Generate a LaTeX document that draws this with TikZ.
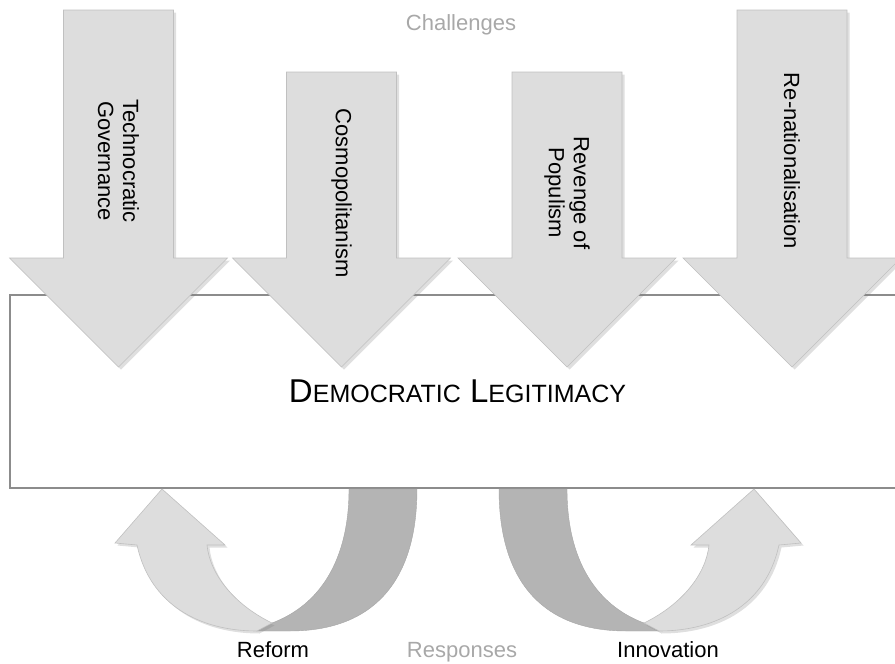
\documentclass[tikz,border=0pt]{standalone}
\usepackage{fontspec}
\setmainfont{Liberation Sans}
\usepackage{xcolor}
\usepackage{tikz}
\usetikzlibrary{shadows}

\definecolor{arrowfill}{RGB}{221,221,221}
\definecolor{arrowedge}{RGB}{192,192,192}
\definecolor{bandfill}{RGB}{180,180,180}
\definecolor{boxedge}{RGB}{140,140,140}
\definecolor{softtext}{RGB}{168,168,168}

\newcommand{\capsword}[2]{{\fontsize{33}{36}\selectfont #1}{\fontsize{25}{28}\selectfont #2}}

\begin{document}
\begin{tikzpicture}[
    x=1pt,
    y=-1pt,
    arrowbody/.style={
        fill=arrowfill,
        draw=arrowedge,
        line width=0.6pt,
        drop shadow={opacity=0.25, shadow xshift=2.5pt, shadow yshift=-2.5pt}
    },
    backband/.style={
        fill=bandfill,
        draw=bandfill!92!black,
        line width=0.4pt
    },
    legitbox/.style={
        draw=boxedge,
        line width=1.5pt,
        fill=white,
        minimum width=895pt,
        minimum height=193pt,
        inner sep=0pt
    },
    challengetext/.style={
        font=\fontsize{22}{25}\selectfont,
        rotate=-90,
        align=center
    },
    responsetext/.style={
        font=\fontsize{22}{25}\selectfont,
        anchor=base
    },
    pics/challenge/.style={code={
        \path[arrowbody] (-55,0) -- (55,0) -- (55,#1) -- (109,#1) -- (0,{#1+109})
            -- (-109,#1) -- (-55,#1) -- cycle;
    }},
    pics/uturn/.style={code={
        \path[backband] (-109,489) -- (-41,489) .. controls (-41,585) and (-88,631) .. (-168,631)
            -- (-201,631) -- (-186,623) .. controls (-138,605) and (-109,560) .. (-109,489) -- cycle;
        \path[arrowbody] (-201,631) -- (-186,623) .. controls (-223,605) and (-248,575) .. (-251,545)
            -- (-233,545) -- (-296,489) -- (-343,543) -- (-321,545)
            .. controls (-308,605) and (-258,631) .. (-201,631) -- cycle;
    }}
]
    \clip (0,0) rectangle (895,664);

    % Central box
    \node[legitbox, font=\fontsize{33}{36}\selectfont] (legit) at (457.5,391.5)
        {\capsword{D}{EMOCRATIC} \capsword{L}{EGITIMACY}};

    % Challenges from above
    \node[responsetext, text=softtext] (challenges) at (461,30) {Challenges};
    \pic (technoarrow) at (118.5,10) {challenge=248};
    \pic (cosmoarrow) at (341.5,72) {challenge=186};
    \pic (populismarrow) at (567,72) {challenge=186};
    \pic (renationarrow) at (792,10) {challenge=248};

    \node[challengetext] (techno) at (118.5,161) {Technocratic\\Governance};
    \node[challengetext] (cosmo) at (341.5,193) {Cosmopolitanism};
    \node[challengetext] (populism) at (567,193) {Revenge of\\Populism};
    \node[challengetext] (renation) at (792,161) {Re-nationalisation};

    % Responses below
    \pic (reformarrow) at (458,0) {uturn};
    \pic[xscale=-1] (innovationarrow) at (458,0) {uturn};

    \node[responsetext] (reform) at (273,657) {Reform};
    \node[responsetext, text=softtext] (responses) at (462,657) {Responses};
    \node[responsetext] (innovation) at (668,657) {Innovation};

\end{tikzpicture}
\end{document}
